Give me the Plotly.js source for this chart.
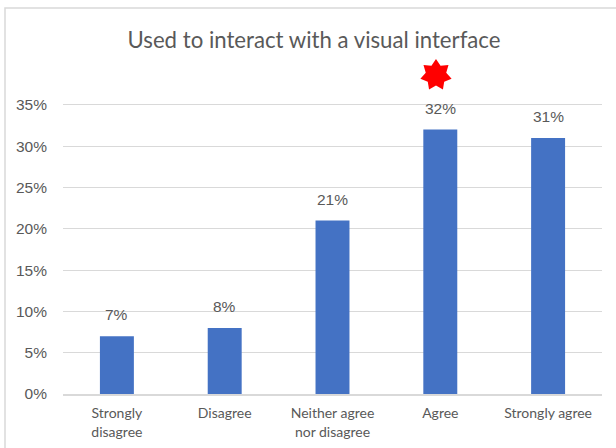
<!DOCTYPE html>
<html>
<head>
<meta charset="utf-8">
<script src="https://cdn.plot.ly/plotly-3.0.1.min.js"></script>
<style>html,body{margin:0;padding:0;background:#fff}#chart{width:616px;height:448px}</style>
</head>
<body>
<div id="chart"></div>
<script>
const categories = ["Strongly<br>disagree", "Disagree", "Neither agree<br>nor disagree", "Agree", "Strongly agree"];
const shares = [7, 8, 21, 32, 31];
const tickValues = [0, 5, 10, 15, 20, 25, 30, 35];
const tickLabels = ["0%", "5%", "10%", "15%", "20%", "25%", "30%", "35%"];

const GREY = "#595959";

// Seven-pointed badge, in pixels around its anchor (pixel y runs upward)
function badgePath(points, outer, inner) {
  let d = "";
  for (let i = 0; i < points * 2; i++) {
    const r = i % 2 ? inner : outer;
    const a = Math.PI / 2 + i * Math.PI / points;
    d += (i ? "L" : "M") + (r * Math.cos(a)).toFixed(2) + "," + (r * Math.sin(a)).toFixed(2);
  }
  return d + "Z";
}

const bars = {
  type: "bar",
  x: categories,
  y: shares,
  marker: {color: "#4472C4"},
  hoverinfo: "skip"
};

const layout = {
  width: 616,
  height: 448,
  margin: {l: 63, r: 14, t: 47, b: 54},
  paper_bgcolor: "#fff",
  plot_bgcolor: "#fff",
  bargap: 0.685,
  showlegend: false,
  title: {
    text: "Used to interact with a visual interface",
    font: {family: "Lato, sans-serif", size: 22.2, color: GREY},
    x: 314 / 616, xanchor: "center",
    y: 1 - 40 / 448, yanchor: "middle"
  },
  xaxis: {
    type: "category",
    tickfont: {family: "Lato, sans-serif", size: 14, color: GREY},
    ticks: "",
    showgrid: false,
    showline: true,
    linecolor: "#d9d9d9",
    linewidth: 1.5,
    ticklabelstandoff: 6,
    automargin: false,
    fixedrange: true
  },
  yaxis: {
    range: [0, 42],
    tickvals: tickValues,
    ticktext: tickLabels,
    tickfont: {family: "Liberation Sans, Arial, sans-serif", size: 15.5, color: GREY},
    ticks: "",
    gridcolor: "#d9d9d9",
    gridwidth: 1,
    zeroline: false,
    ticklabelstandoff: 15,
    automargin: false,
    fixedrange: true
  },
  annotations: categories.map((c, i) => ({
    x: c,
    y: shares[i],
    xref: "x",
    yref: "y",
    text: shares[i] + "%",
    showarrow: false,
    yanchor: "bottom",
    yshift: 11,
    font: {family: "Liberation Sans, Arial, sans-serif", size: 15.5, color: GREY}
  })),
  shapes: [
    {
      type: "rect", xref: "paper", yref: "paper",
      xsizemode: "pixel", ysizemode: "pixel",
      xanchor: 0, yanchor: 0,
      x0: -58, x1: 560, y0: -60, y1: 386,
      line: {color: "#d9d9d9", width: 1.5},
      fillcolor: "rgba(0,0,0,0)",
      layer: "below"
    },
    {
      type: "path", xref: "x", yref: "y",
      xsizemode: "pixel", ysizemode: "pixel",
      xanchor: 2.96, yanchor: 38.6,
      path: badgePath(7, 16, 10.5),
      line: {color: "#ff0000", width: 0},
      fillcolor: "#ff0000"
    }
  ]
};

Plotly.newPlot("chart", [bars], layout, {displayModeBar: false, staticPlot: true});
</script>
</body>
</html>
